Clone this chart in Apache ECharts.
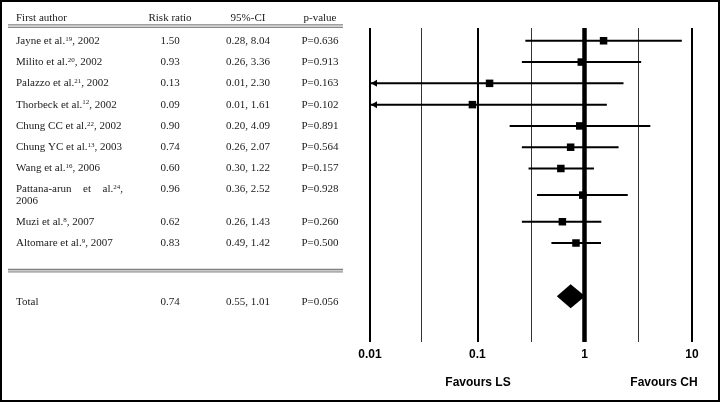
<!DOCTYPE html>
<html><head><meta charset="utf-8">
<script src="https://cdn.jsdelivr.net/npm/echarts@6/dist/echarts.min.js"></script>
<style>html,body{margin:0;padding:0;background:#fff}#c{width:721px;height:403px}</style>
</head><body><div id="c"></div>
<script>
// ---- data ----
const authorNames = ['Jayne et al.','Milito et al.','Palazzo et al.','Thorbeck et al.','Chung CC et al.','Chung YC et al.','Wang et al.','Pattana-arun et al.','Muzi et al.','Altomare et al.'];
const refNumbers = ['19','20','21','12','22','13','16','24','8','9'];
const years = ['2002','2002','2002','2002','2002','2003','2006','2006','2007','2007'];
const riskRatio = [1.50,0.93,0.13,0.09,0.90,0.74,0.60,0.96,0.62,0.83];
const ciLower = [0.28,0.26,0.01,0.01,0.20,0.26,0.30,0.36,0.26,0.49];
const ciUpper = [8.04,3.36,2.30,1.61,4.09,2.07,1.22,2.52,1.43,1.42];
const pValues = ['0.636','0.913','0.163','0.102','0.891','0.564','0.157','0.928','0.260','0.500'];
const totalLabel = 'Total';
const totalRR = 0.74, totalLower = 0.55, totalUpper = 1.01, totalP = '0.056';
const headers = ['First author','Risk ratio','95%-CI','p-value'];
const axisTicks = [0.01, 0.1, 1, 10];
const tickLabels = ['0.01','0.1','1','10'];
const favourLabels = ['Favours LS','Favours CH'];

// ---- layout ----
const SERIF = '"Liberation Serif","Times New Roman",serif';
const SANS = '"Liberation Sans",Arial,sans-serif';
const TXT = '#1a1a1a';
const colX = [16, 170, 248, 320];
const authorColWidth = 107;
const fmt2 = v => v.toFixed(2);
const wrapped = authorNames.map((n,i) => (n + refNumbers[i] + ', ' + years[i]).length > 25);
const rowY = []; let cursor = -0.5;
for (let i = 0; i < authorNames.length; i++) { const slot = wrapped[i] ? 1.5 : 1; rowY.push(cursor + slot/2); cursor += slot; }
const separatorY = cursor + 0.8, totalY = cursor + 2, headerY = -1.05, headerLineY = -0.69;
const yMin = -0.6, yMax = 14.15;
const halfDecades = axisTicks.slice(0, -1).map(v => v * Math.sqrt(10));

const measureCtx = document.createElement('canvas').getContext('2d');
function textW(t, size){ measureCtx.font = size + 'px ' + SERIF; return measureCtx.measureText(t).width; }

const rich = { n:{fontSize:11, fontFamily:SERIF, fill:TXT, color:TXT}, s:{fontSize:7, fontFamily:SERIF, fill:TXT, color:TXT, verticalAlign:'top'} };
function tx(x, y, text, align, extra){
  return {type:'text', x:x, y:y, style:Object.assign({text:text, align:align, verticalAlign:'middle', fill:TXT, fontSize:11, fontFamily:SERIF}, extra||{})};
}

function renderTable(params, api){
  const kids = [];
  const py = v => api.coord([0, v])[1];
  const hy = py(headerY);
  headers.forEach((h,i) => kids.push(tx(colX[i], hy, h, i===0?'left':'center')));
  [headerLineY, separatorY].forEach(v => {
    const y = py(v);
    kids.push({type:'line', shape:{x1:8,y1:y-1.2,x2:343,y2:y-1.2}, style:{stroke:'#808080', lineWidth:1.3}});
    kids.push({type:'line', shape:{x1:8,y1:y+1.2,x2:343,y2:y+1.2}, style:{stroke:'#8a8a8a', lineWidth:1.3}});
    kids.push({type:'line', shape:{x1:8,y1:y,x2:343,y2:y}, style:{stroke:'#c8c8c8', lineWidth:1}});
  });
  for (let i = 0; i < authorNames.length; i++){
    let y = py(rowY[i]);
    if (wrapped[i]) {
      const y1 = y - 6;
      const words = authorNames[i].split(' ');
      const widths = words.map((w,k) => k === words.length-1 ? textW(w + ',', 11) + textW(refNumbers[i], 7) : textW(w, 11));
      const gap = (authorColWidth - widths.reduce((a,b)=>a+b,0)) / (words.length-1);
      let x = colX[0];
      words.forEach((w,k) => {
        const t = k === words.length-1 ? '{n|' + w + '}{s|' + refNumbers[i] + '}{n|,}' : w;
        kids.push(tx(x, y1, t, 'left', {rich:rich}));
        x += widths[k] + gap;
      });
      kids.push(tx(colX[0], y1 + 12, years[i], 'left'));
      y = y1;
    } else {
      kids.push(tx(colX[0], y, '{n|' + authorNames[i] + '}{s|' + refNumbers[i] + '}{n|, ' + years[i] + '}', 'left', {rich:rich}));
    }
    kids.push(tx(colX[1], y, fmt2(riskRatio[i]), 'center'));
    kids.push(tx(colX[2], y, fmt2(ciLower[i]) + ', ' + fmt2(ciUpper[i]), 'center'));
    kids.push(tx(colX[3], y, 'P=' + pValues[i], 'center'));
  }
  const ty = py(totalY) + 6;
  kids.push(tx(colX[0], ty, totalLabel, 'left'));
  kids.push(tx(colX[1], ty, fmt2(totalRR), 'center'));
  kids.push(tx(colX[2], ty, fmt2(totalLower) + ', ' + fmt2(totalUpper), 'center'));
  kids.push(tx(colX[3], ty, 'P=' + totalP, 'center'));
  return {type:'group', children:kids};
}

function renderStudy(params, api){
  const rr = api.value(0), lo = api.value(1), hi = api.value(2), y = api.value(3);
  const c = api.coord([rr, y]), l = api.coord([lo, y]), h = api.coord([hi, y]);
  const kids = [{type:'line', shape:{x1:l[0], y1:l[1], x2:h[0], y2:h[1]}, style:{stroke:'#000', lineWidth:2}}];
  if (lo <= axisTicks[0]) kids.push({type:'polygon', shape:{points:[[l[0]+1,l[1]],[l[0]+7,l[1]-3.5],[l[0]+7,l[1]+3.5]]}, style:{fill:'#000'}});
  kids.push({type:'rect', shape:{x:c[0]-3.75, y:c[1]-3.75, width:7.5, height:7.5}, style:{fill:'#000'}});
  return {type:'group', children:kids};
}
function renderDiamond(params, api){
  const rr = api.value(0), lo = api.value(1), hi = api.value(2), y = api.value(3);
  const c = api.coord([rr, y]), l = api.coord([lo, y]), h = api.coord([hi, y]);
  return {type:'polygon', shape:{points:[[l[0],l[1]],[c[0],c[1]-12],[h[0],h[1]],[c[0],c[1]+12]]}, style:{fill:'#000'}};
}

const studyData = riskRatio.map((v,i) => [v, ciLower[i], ciUpper[i], rowY[i]]);
const gridLines = axisTicks.map(v => ({xAxis:v, lineStyle:{color:'#000', width: v === 1 ? 4.5 : 2, type:'solid'}}))
  .concat(halfDecades.map(v => ({xAxis:v, lineStyle:{color:'#333', width:1, type:'solid'}})));

const chart = echarts.init(document.getElementById('c'));
chart.setOption({
  animation:false,
  grid:[
    {left:0, width:355, top:28, bottom:61},
    {left:370, right:29, top:28, bottom:61}
  ],
  xAxis:[
    {gridIndex:0, type:'value', min:0, max:355, show:false},
    {gridIndex:1, type:'log', logBase:10, min:axisTicks[0], max:axisTicks[axisTicks.length-1],
     axisLine:{show:false}, axisTick:{show:false}, splitLine:{show:false},
     axisLabel:{show:true, margin:7, color:'#000', fontSize:12, fontWeight:'bold', fontFamily:SANS,
       formatter: v => { const k = axisTicks.findIndex(t => Math.abs(Math.log10(t) - Math.log10(v)) < 1e-6); return k >= 0 ? tickLabels[k] : ''; }}}
  ],
  yAxis:[
    {gridIndex:0, type:'value', inverse:true, min:yMin, max:yMax, show:false},
    {gridIndex:1, type:'value', inverse:true, min:yMin, max:yMax, show:false}
  ],
  series:[
    {type:'custom', xAxisIndex:0, yAxisIndex:0, data:[[0,0]], renderItem:renderTable, clip:false, silent:true},
    {type:'line', xAxisIndex:1, yAxisIndex:1, data:[], z:1, silent:true,
     markLine:{silent:true, symbol:'none', label:{show:false}, data:gridLines}},
    {type:'custom', xAxisIndex:1, yAxisIndex:1, data:studyData, renderItem:renderStudy, z:5, clip:false, silent:true},
    {type:'custom', xAxisIndex:1, yAxisIndex:1, data:[[totalRR,totalLower,totalUpper,totalY]], renderItem:renderDiamond, z:5, clip:false, silent:true}
  ],
  graphic:[
    {type:'rect', shape:{x:1, y:1, width:718, height:400}, style:{fill:'none', stroke:'#000', lineWidth:2}, z:100},
    {type:'text', x:478, y:383, style:{text:favourLabels[0], align:'center', verticalAlign:'middle', fill:'#000', fontSize:12, fontWeight:'bold', fontFamily:SANS}},
    {type:'text', x:664, y:383, style:{text:favourLabels[1], align:'center', verticalAlign:'middle', fill:'#000', fontSize:12, fontWeight:'bold', fontFamily:SANS}}
  ]
});
</script>
</body></html>
